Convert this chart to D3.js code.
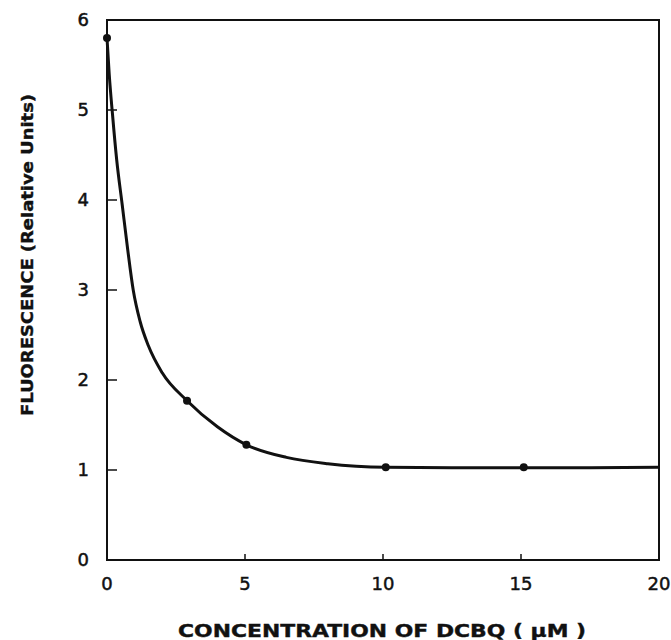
<html>
<head>
  <script src="https://d3js.org/d3.v7.min.js"></script>
  <style>
    body { margin: 0; background: #fff; }
    text { font-family: "DejaVu Sans", sans-serif; fill: #111; }
    .tick-label { font-size: 18px; stroke: #111; stroke-width: 0.5px; }
    .title { font-weight: bold; stroke: #111; stroke-width: 0.4px; }
  </style>
</head>
<body>
  <svg id="chart" width="671" height="640"></svg>
  <script>
    // measured points
    const concPoints = [0, 2.9, 5.05, 10.1, 15.1];
    const fluorPoints = [5.8, 1.77, 1.28, 1.03, 1.03];
    // hand-drawn fit curve
    const curveX = [0, 0.08, 0.2, 0.35, 0.55, 0.75, 0.95, 1.2, 1.5, 2.0, 2.9, 4.0, 5.05, 6.5, 8.0, 10.1, 12.5, 15.1, 17.5, 20];
    const curveY = [5.8, 5.4, 4.95, 4.45, 3.95, 3.45, 3.0, 2.65, 2.38, 2.08, 1.77, 1.48, 1.28, 1.14, 1.07, 1.03, 1.025, 1.025, 1.025, 1.03];
    const xTicks = [0, 5, 10, 15, 20];
    const yTicks = [0, 1, 2, 3, 4, 5, 6];

    const svg = d3.select('svg#chart');
    const x = d3.scaleLinear().domain([0, 20]).range([107, 659]);
    const y = d3.scaleLinear().domain([0, 6]).range([560, 20]);

    // frame
    svg.append('rect')
      .attr('x', x(0)).attr('y', y(6))
      .attr('width', x(20) - x(0)).attr('height', y(0) - y(6))
      .attr('fill', 'none').attr('stroke', '#111').attr('stroke-width', 2);

    // y ticks (inward)
    svg.selectAll('line.ytick').data(yTicks.slice(1, 6)).join('line')
      .attr('x1', x(0)).attr('x2', x(0) + 10)
      .attr('y1', d => y(d)).attr('y2', d => y(d))
      .attr('stroke', '#111').attr('stroke-width', 1.5);
    svg.selectAll('text.ylab').data(yTicks).join('text')
      .attr('class', 'tick-label')
      .attr('x', x(0) - 18).attr('y', d => y(d) + 6)
      .attr('text-anchor', 'end')
      .text(d => d);

    // x ticks (inward)
    svg.selectAll('line.xtick').data(xTicks.slice(1, 4)).join('line')
      .attr('x1', d => x(d)).attr('x2', d => x(d))
      .attr('y1', y(0)).attr('y2', y(0) - 6)
      .attr('stroke', '#111').attr('stroke-width', 1.5);
    svg.selectAll('text.xlab').data(xTicks).join('text')
      .attr('class', 'tick-label')
      .attr('x', d => x(d)).attr('y', y(0) + 30)
      .attr('text-anchor', 'middle')
      .text(d => d);

    // curve
    const line = d3.line().x(d => x(d[0])).y(d => y(d[1])).curve(d3.curveMonotoneX);
    svg.append('path')
      .datum(curveX.map((v, i) => [v, curveY[i]]))
      .attr('d', line)
      .attr('fill', 'none').attr('stroke', '#111').attr('stroke-width', 3);

    svg.selectAll('circle.pt').data(concPoints.map((v, i) => [v, fluorPoints[i]])).join('circle')
      .attr('cx', d => x(d[0])).attr('cy', d => y(d[1])).attr('r', 4)
      .attr('fill', '#111');

    // titles
    svg.append('text').attr('class', 'title')
      .attr('x', 382).attr('y', 637)
      .attr('text-anchor', 'middle')
      .attr('font-size', 18)
      .attr('textLength', 408).attr('lengthAdjust', 'spacingAndGlyphs')
      .text('CONCENTRATION  OF  DCBQ ( μM )');
    svg.append('text').attr('class', 'title')
      .attr('transform', 'translate(33,255) rotate(-90)')
      .attr('text-anchor', 'middle')
      .attr('font-size', 16)
      .attr('textLength', 322).attr('lengthAdjust', 'spacingAndGlyphs')
      .text('FLUORESCENCE  (Relative  Units)');
  </script>
</body>
</html>
